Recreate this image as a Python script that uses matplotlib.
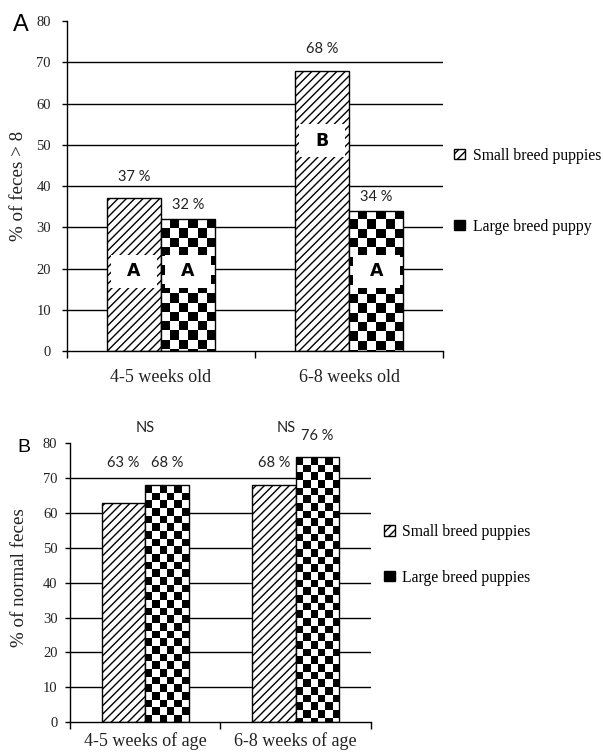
import numpy as np
import matplotlib
matplotlib.use("Agg")
import matplotlib.pyplot as plt
from matplotlib.patches import Patch, Rectangle

plt.rcParams["hatch.linewidth"] = 1.0

# ---- data ----
groups_a = ["4-5 weeks old", "6-8 weeks old"]
small_a = [37, 68]
large_a = [32, 34]
letters_small_a = ["A", "B"]
letters_large_a = ["A", "A"]
legend_a = ["Small breed puppies", "Large breed puppy"]

groups_b = ["4-5 weeks of age", "6-8 weeks of age"]
small_b = [63, 68]
large_b = [68, 76]
sig_b = ["NS", "NS"]
legend_b = ["Small breed puppies", "Large breed puppies"]

yticks = [0, 10, 20, 30, 40, 50, 60, 70, 80]

SERIF = "Liberation Serif"
SANS = "Lato"
TXT = "#222222"
BAR_W = 0.288


def checker_fill(ax, bar, ncols, cell_h, phase):
    """Fake a checkerboard pattern inside a bar (no such hatch in mpl)."""
    x0, w, h = bar.get_x(), bar.get_width(), bar.get_height()
    nrows = int(np.ceil(h / cell_h))
    grid = ((np.add.outer(np.arange(nrows), np.arange(ncols)) + phase) % 2).astype(float)
    im = ax.imshow(grid, cmap="gray", vmin=0, vmax=1, origin="upper",
                   extent=(x0, x0 + w, h - nrows * cell_h, h),
                   interpolation="nearest", aspect="auto", zorder=2.5)
    im.set_clip_path(bar)


def base_axes(ax, groups, ylabel, tick_len, tick_pad, xpad):
    ax.set_xlim(-0.5, 1.5)
    ax.set_ylim(0, 80)
    ax.set_yticks(yticks)
    ax.set_yticklabels([str(t) for t in yticks], fontfamily=SERIF, fontsize=10.5, color=TXT)
    ax.tick_params(axis="y", length=tick_len, width=1, pad=tick_pad, direction="out")
    # boundary ticks (major) and labels at group centres (minor)
    ax.set_xticks([-0.5, 0.5, 1.5])
    ax.set_xticklabels([])
    ax.set_xticks([0, 1], minor=True)
    ax.set_xticklabels(groups, minor=True, fontfamily=SERIF, fontsize=13, color=TXT)
    ax.tick_params(axis="x", which="major", length=5, width=1, direction="out")
    ax.tick_params(axis="x", which="minor", length=0, pad=xpad)
    for t in yticks[1:-1]:
        ax.axhline(t, color="black", lw=1, zorder=0.5)
    for s in ["top", "right"]:
        ax.spines[s].set_visible(False)
    for s in ["left", "bottom"]:
        ax.spines[s].set_linewidth(1)
    ax.set_ylabel(ylabel, fontfamily=SERIF, fontsize=13.7, color=TXT)


def draw_bars(ax, small, large, ncols, cell_h, phase):
    x = np.arange(len(small))
    bs = ax.bar(x - BAR_W / 2, small, BAR_W, facecolor="white", edgecolor="black",
                hatch="////", lw=1, zorder=2)
    bl = ax.bar(x + BAR_W / 2, large, BAR_W, facecolor="none", edgecolor="black",
                lw=1, zorder=3)
    for b in bl:
        checker_fill(ax, b, ncols, cell_h, phase)
    ax.set_xlim(-0.5, 1.5)
    ax.set_ylim(0, 80)
    return x, bs, bl


def letter_box(ax, xc, yc, letter):
    bw, bh = BAR_W * 0.86, 8
    ax.add_patch(Rectangle((xc - bw / 2, yc - bh / 2), bw, bh, fc="white", ec="none", zorder=5))
    ax.text(xc, yc, letter, ha="center", va="center", fontfamily="DejaVu Sans",
            fontweight="bold", fontsize=12.5, zorder=6)


fig = plt.figure(figsize=(6.03, 7.55), dpi=100)

# ---------------- panel A ----------------
ax1 = fig.add_axes([0.111, 0.535, 0.624, 0.437])
base_axes(ax1, groups_a, "% of feces > 8", 3.5, 8, 13)
x, bs, bl = draw_bars(ax1, small_a, large_a, 6, 2.25, 1)
for i in range(len(x)):
    ax1.text(x[i] - BAR_W / 2, small_a[i] + 5.3, f"{small_a[i]} %", ha="center",
             va="center", fontfamily=SANS, fontsize=10.5, color=TXT)
    ax1.text(x[i] + BAR_W / 2, large_a[i] + 3.3, f"{large_a[i]} %", ha="center",
             va="center", fontfamily=SANS, fontsize=10.5, color=TXT)
letter_y_small = [19.3, 51]
for i in range(len(x)):
    letter_box(ax1, x[i] - BAR_W / 2, letter_y_small[i], letters_small_a[i])
    letter_box(ax1, x[i] + BAR_W / 2, 19.3, letters_large_a[i])
ax1.yaxis.set_label_coords(-0.106, 0.5)
handles_a = [Patch(facecolor="white", edgecolor="black", hatch="////"),
             Patch(facecolor="black", edgecolor="black")]
ax1.legend(handles_a, legend_a, loc="center left", bbox_to_anchor=(1.03, 0.485),
           frameon=False, handlelength=0.65, handleheight=0.65, handletextpad=0.5,
           labelspacing=3.5, borderpad=0, borderaxespad=0,
           prop={"family": SERIF, "size": 11.3})
fig.text(0.022, 0.981, "A", fontfamily="Liberation Sans", fontsize=17, va="top", ha="left")

# ---------------- panel B ----------------
ax2 = fig.add_axes([0.116, 0.0437, 0.499, 0.369])
base_axes(ax2, groups_b, "% of normal feces", 3.5, 5.5, 7)
x, bs, bl = draw_bars(ax2, small_b, large_b, 6, 2.2, 0)
label_y_b = [[74.5, 74.5], [74.5, 82]]
for i in range(len(x)):
    ax2.text(x[i] - BAR_W / 2, label_y_b[i][0], f"{small_b[i]} %", ha="center",
             va="center", fontfamily=SANS, fontsize=10.5, color=TXT)
    ax2.text(x[i] + BAR_W / 2, label_y_b[i][1], f"{large_b[i]} %", ha="center",
             va="center", fontfamily=SANS, fontsize=10.5, color=TXT)
    ax2.text(x[i] - 0.06 * i, 84.3, sig_b[i], ha="center", va="center",
             fontfamily=SANS, fontsize=10.5, color=TXT, clip_on=False)
ax2.yaxis.set_label_coords(-0.14, 0.52)
handles_b = [Patch(facecolor="white", edgecolor="black", hatch="////"),
             Patch(facecolor="black", edgecolor="black")]
ax2.legend(handles_b, legend_b, loc="center left", bbox_to_anchor=(1.045, 0.60),
           frameon=False, handlelength=0.65, handleheight=0.65, handletextpad=0.5,
           labelspacing=1.9, borderpad=0, borderaxespad=0,
           prop={"family": SERIF, "size": 11.3})
fig.text(0.028, 0.418, "B", fontfamily="Liberation Sans", fontsize=14, va="top", ha="left")

fig.savefig("out.png", dpi=100)
